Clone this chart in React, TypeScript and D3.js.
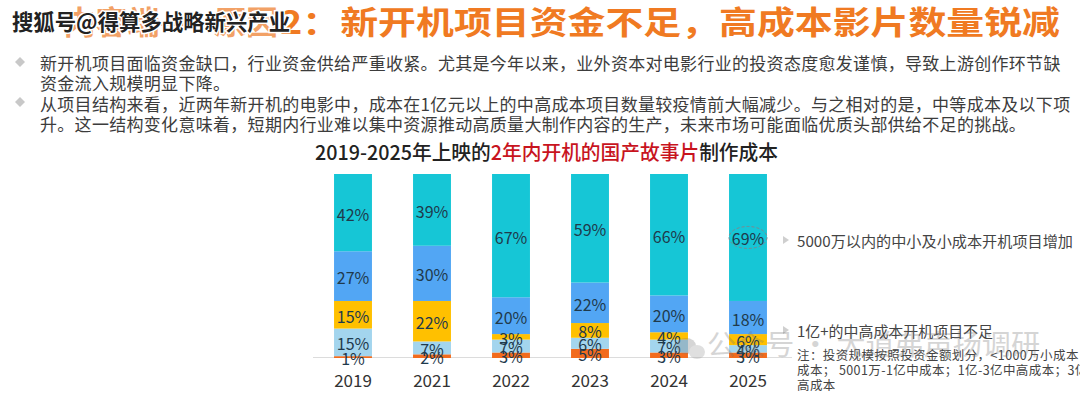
import React from "react";
import * as d3 from "d3";

const years = ["2019", "2021", "2022", "2023", "2024", "2025"];
// bottom to top
const cost3yiPlus = [1, 2, 3, 5, 3, 3];
const cost1to3yi = [15, 7, 7, 6, 7, 4];
const cost5001to1yi = [15, 22, 3, 8, 4, 6];
const cost1000to5000 = [27, 30, 20, 22, 20, 18];
const costUnder1000 = [42, 39, 67, 59, 66, 69];

const seriesKeys = ["c3yi", "c1to3", "c5001", "c1000", "cSmall"];
const seriesValues = [cost3yiPlus, cost1to3yi, cost5001to1yi, cost1000to5000, costUnder1000];
const seriesColors = ["#F26B1D", "#A3D5EE", "#FFC000", "#52A6F4", "#16C6D6"];

const headerTitleHidden = "内容端——原因";
const headerTitle = "2：新开机项目资金不足，高成本影片数量锐减";
const watermarkTop = "搜狐号@得算多战略新兴产业";
const bodyLines = [
  "新开机项目面临资金缺口，行业资金供给严重收紧。尤其是今年以来，业外资本对电影行业的投资态度愈发谨慎，导致上游创作环节缺",
  "资金流入规模明显下降。",
  "从项目结构来看，近两年新开机的电影中，成本在1亿元以上的中高成本项目数量较疫情前大幅减少。与之相对的是，中等成本及以下项",
  "升。这一结构变化意味着，短期内行业难以集中资源推动高质量大制作内容的生产，未来市场可能面临优质头部供给不足的挑战。",
];
const chartTitleA = "2019-2025年上映的";
const chartTitleB = "2年内开机的国产故事片";
const chartTitleC = "制作成本";
const noteA = "5000万以内的中小及小成本开机项目增加";
const noteB = "1亿+的中高成本开机项目不足";
const footLines = [
  "注：投资规模按照投资金额划分，<1000万小成本；1000-5000万中小",
  "成本； 5001万-1亿中成本；1亿-3亿中高成本；3亿+",
  "高成本",
];
const watermarkBottom = "公众号 · 大道弗声扬调研";

const FONT = "'Noto Sans CJK SC', 'Noto Sans', sans-serif";

export default function App() {
  const rows = years.map((y, i) => {
    const r: any = { year: y };
    seriesKeys.forEach((k, j) => (r[k] = seriesValues[j][i]));
    return r;
  });
  const stack = d3.stack<any>().keys(seriesKeys)(rows);

  const x = d3
    .scaleBand<string>()
    .domain(years)
    .range([313.5, 787.5])
    .paddingInner(0.52)
    .paddingOuter(0.26);
  const y = d3.scaleLinear().domain([0, 100]).range([358, 174]);

  const last = years[years.length - 1];
  const lastTopLayer = stack[stack.length - 1];
  const lastIdx = years.length - 1;
  const ellCx = (x(last) as number) + x.bandwidth() / 2;
  const ellCy = (y(lastTopLayer[lastIdx][0]) + y(lastTopLayer[lastIdx][1])) / 2;

  return (
    <svg
      width={1080}
      height={393}
      style={{ position: "absolute", left: 0, top: 0, background: "#fff" }}
      fontFamily={FONT}
    >
      <rect x={0} y={0} width={1080} height={393} fill="#fff" />
      {/* header title */}
      <text x={278} y={34} fontSize={32} fontWeight={700} fill="#F08A40" textAnchor="end" opacity={0.8}>
        {headerTitleHidden}
      </text>
      <text
        x={280}
        y={34}
        fontSize={32}
        fontWeight={700}
        fill="#F07A22"
        textLength={780}
        lengthAdjust="spacingAndGlyphs"
      >
        {headerTitle}
      </text>
      <text
        x={12}
        y={30}
        fontSize={22}
        fontWeight={700}
        fill="#222"
        stroke="#fff"
        strokeWidth={3}
        paintOrder="stroke"
        textLength={278}
        lengthAdjust="spacingAndGlyphs"
      >
        {watermarkTop}
      </text>

      {/* body text */}
      {[0, 2].map((li) => {
        const cy = li === 0 ? 62 : 102;
        return (
          <path
            key={"b" + li}
            d={`M20,${cy - 5} L25,${cy} L20,${cy + 5} L15,${cy} Z`}
            fill="#c8c8c8"
          />
        );
      })}
      {bodyLines.map((t, i) => (
        <text
          key={"l" + i}
          x={40}
          y={62 + i * 20.5}
          fontSize={17}
          letterSpacing={0.3}
          fill="#3c3c3c"
          dominantBaseline="central"
        >
          {t}
        </text>
      ))}

      {/* chart title */}
      <text
        x={315}
        y={151}
        fontSize={20}
        fontWeight={500}
        fill="#222"
        dominantBaseline="central"
        textLength={463}
        lengthAdjust="spacingAndGlyphs"
      >
        <tspan>{chartTitleA}</tspan>
        <tspan fill="#C8141E">{chartTitleB}</tspan>
        <tspan>{chartTitleC}</tspan>
      </text>

      {/* baseline */}
      <line x1={313} x2={792} y1={357.5} y2={357.5} stroke="#dcdcdc" strokeWidth={1} />

      {/* bars */}
      {stack.map((layer, li) => (
        <g key={"s" + li} fill={seriesColors[li]}>
          {layer.map((d, i) => (
            <rect
              key={i}
              x={x(years[i])}
              width={x.bandwidth()}
              y={y(d[1])}
              height={y(d[0]) - y(d[1])}
            />
          ))}
        </g>
      ))}
      {stack.map((layer, li) => (
        <g key={"t" + li}>
          {layer.map((d, i) => (
            <text
              key={i}
              x={(x(years[i]) as number) + x.bandwidth() / 2}
              y={(y(d[0]) + y(d[1])) / 2 + 1}
              textAnchor="middle"
              dominantBaseline="central"
              fontSize={16}
              fill="#1f3a4c"
            >
              {seriesValues[li][i] + "%"}
            </text>
          ))}
        </g>
      ))}

      {/* year labels */}
      {years.map((yr) => (
        <text
          key={yr}
          x={(x(yr) as number) + x.bandwidth() / 2}
          y={379}
          textAnchor="middle"
          dominantBaseline="central"
          fontSize={17}
          fill="#333"
        >
          {yr}
        </text>
      ))}

      {/* dashed ellipse */}
      <ellipse
        cx={ellCx}
        cy={ellCy}
        rx={19}
        ry={11}
        fill="none"
        stroke="#7a8a90"
        strokeWidth={1}
        strokeDasharray="3 2"
      />

      {/* annotations */}
      <path d="M783,236 L789,240 L783,244 Z" fill="#cfcfcf" />
      <text x={797} y={240} fontSize={15} fill="#444" dominantBaseline="central" textLength={276} lengthAdjust="spacingAndGlyphs">
        {noteA}
      </text>
      <path d="M783,326 L789,330 L783,334 Z" fill="#cfcfcf" />
      <text x={797} y={330} fontSize={15} fill="#444" dominantBaseline="central" textLength={196} lengthAdjust="spacingAndGlyphs">
        {noteB}
      </text>
      {footLines.map((t, i) => (
        <text key={"f" + i} x={797} y={354 + i * 15} fontSize={12.5} letterSpacing={0.4} fill="#444" dominantBaseline="central">
          {t}
        </text>
      ))}

      {/* bottom watermark */}
      <g opacity={0.3}>
        <ellipse cx={686} cy={346} rx={10} ry={8} fill="#777" />
        <ellipse cx={697} cy={352} rx={8} ry={7} fill="#999" />
        <text
          x={707}
          y={343}
          fontSize={28}
          fill="#777"
          dominantBaseline="central"
          textLength={333}
          lengthAdjust="spacingAndGlyphs"
        >
          {watermarkBottom}
        </text>
      </g>
    </svg>
  );
}
